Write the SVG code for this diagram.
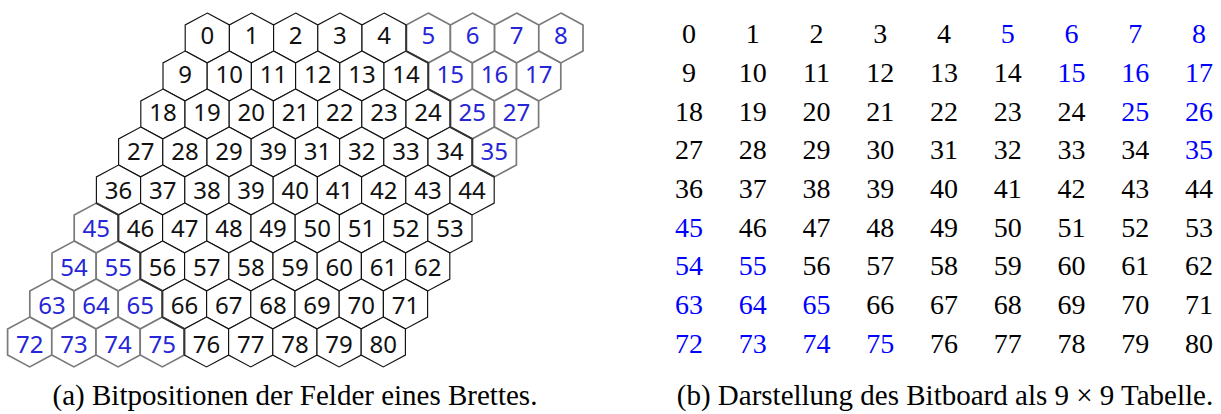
<svg xmlns="http://www.w3.org/2000/svg" xmlns:xlink="http://www.w3.org/1999/xlink" width="1221" height="414" viewBox="0 0 1221 414">
<style>
.hl text{font-family:"Noto Sans","Open Sans",sans-serif;font-size:24px;text-anchor:middle}
.blk use{fill:#fff;stroke:#111;stroke-width:1.15}
.blu use{fill:#fff;stroke:#7a7a7a;stroke-width:1.7}
.blk text{fill:#111}
.blu text{fill:#2626d6}
.bd{fill:none;stroke:#333;stroke-width:2;stroke-linejoin:round}
.tb text{font-family:"Liberation Serif","Times New Roman",serif;font-size:28px;text-anchor:middle;fill:#000}
.tb text.b{fill:#0000ff}
.cap{font-family:"Liberation Serif","Times New Roman",serif;font-size:29px;text-anchor:middle;fill:#000}
</style>
<defs>
<path id="hx" d="M0,-24.9 L22.1,-13.1 L22.1,13.1 L0,24.9 L-22.1,13.1 L-22.1,-13.1 Z"/>
</defs>
<rect width="1221" height="414" fill="#fff"/>
<g id="board" class="hl">
<g id="h5" class="blu"><use xlink:href="#hx" x="428.3" y="38"/><text x="428.3" y="44.3">5</text></g>
<g id="h6" class="blu"><use xlink:href="#hx" x="472.5" y="38"/><text x="472.5" y="44.3">6</text></g>
<g id="h7" class="blu"><use xlink:href="#hx" x="516.7" y="38"/><text x="516.7" y="44.3">7</text></g>
<g id="h8" class="blu"><use xlink:href="#hx" x="560.9" y="38"/><text x="560.9" y="44.3">8</text></g>
<g id="h15" class="blu"><use xlink:href="#hx" x="450.3" y="76"/><text x="450.3" y="82.9">15</text></g>
<g id="h16" class="blu"><use xlink:href="#hx" x="494.5" y="76"/><text x="494.5" y="82.9">16</text></g>
<g id="h17" class="blu"><use xlink:href="#hx" x="538.7" y="76"/><text x="538.7" y="82.9">17</text></g>
<g id="h25" class="blu"><use xlink:href="#hx" x="472.3" y="114"/><text x="472.3" y="121.4">25</text></g>
<g id="h26" class="blu"><use xlink:href="#hx" x="516.5" y="114"/><text x="516.5" y="121.4">27</text></g>
<g id="h35" class="blu"><use xlink:href="#hx" x="494.3" y="152"/><text x="494.3" y="160">35</text></g>
<g id="h45" class="blu"><use xlink:href="#hx" x="96.3" y="228"/><text x="96.3" y="237">45</text></g>
<g id="h54" class="blu"><use xlink:href="#hx" x="74.1" y="266"/><text x="74.1" y="275.6">54</text></g>
<g id="h55" class="blu"><use xlink:href="#hx" x="118.3" y="266"/><text x="118.3" y="275.6">55</text></g>
<g id="h63" class="blu"><use xlink:href="#hx" x="51.9" y="304"/><text x="51.9" y="314.2">63</text></g>
<g id="h64" class="blu"><use xlink:href="#hx" x="96.1" y="304"/><text x="96.1" y="314.2">64</text></g>
<g id="h65" class="blu"><use xlink:href="#hx" x="140.3" y="304"/><text x="140.3" y="314.2">65</text></g>
<g id="h72" class="blu"><use xlink:href="#hx" x="29.7" y="342"/><text x="29.7" y="352.7">72</text></g>
<g id="h73" class="blu"><use xlink:href="#hx" x="73.9" y="342"/><text x="73.9" y="352.7">73</text></g>
<g id="h74" class="blu"><use xlink:href="#hx" x="118.1" y="342"/><text x="118.1" y="352.7">74</text></g>
<g id="h75" class="blu"><use xlink:href="#hx" x="162.3" y="342"/><text x="162.3" y="352.7">75</text></g>

<g id="h0" class="blk"><use xlink:href="#hx" x="207.3" y="38"/><text x="207.3" y="44.3">0</text></g>
<g id="h1" class="blk"><use xlink:href="#hx" x="251.5" y="38"/><text x="251.5" y="44.3">1</text></g>
<g id="h2" class="blk"><use xlink:href="#hx" x="295.7" y="38"/><text x="295.7" y="44.3">2</text></g>
<g id="h3" class="blk"><use xlink:href="#hx" x="339.9" y="38"/><text x="339.9" y="44.3">3</text></g>
<g id="h4" class="blk"><use xlink:href="#hx" x="384.1" y="38"/><text x="384.1" y="44.3">4</text></g>
<g id="h9" class="blk"><use xlink:href="#hx" x="185.1" y="76"/><text x="185.1" y="82.9">9</text></g>
<g id="h10" class="blk"><use xlink:href="#hx" x="229.3" y="76"/><text x="229.3" y="82.9">10</text></g>
<g id="h11" class="blk"><use xlink:href="#hx" x="273.5" y="76"/><text x="273.5" y="82.9">11</text></g>
<g id="h12" class="blk"><use xlink:href="#hx" x="317.7" y="76"/><text x="317.7" y="82.9">12</text></g>
<g id="h13" class="blk"><use xlink:href="#hx" x="361.9" y="76"/><text x="361.9" y="82.9">13</text></g>
<g id="h14" class="blk"><use xlink:href="#hx" x="406.1" y="76"/><text x="406.1" y="82.9">14</text></g>
<g id="h18" class="blk"><use xlink:href="#hx" x="162.9" y="114"/><text x="162.9" y="121.4">18</text></g>
<g id="h19" class="blk"><use xlink:href="#hx" x="207.1" y="114"/><text x="207.1" y="121.4">19</text></g>
<g id="h20" class="blk"><use xlink:href="#hx" x="251.3" y="114"/><text x="251.3" y="121.4">20</text></g>
<g id="h21" class="blk"><use xlink:href="#hx" x="295.5" y="114"/><text x="295.5" y="121.4">21</text></g>
<g id="h22" class="blk"><use xlink:href="#hx" x="339.7" y="114"/><text x="339.7" y="121.4">22</text></g>
<g id="h23" class="blk"><use xlink:href="#hx" x="383.9" y="114"/><text x="383.9" y="121.4">23</text></g>
<g id="h24" class="blk"><use xlink:href="#hx" x="428.1" y="114"/><text x="428.1" y="121.4">24</text></g>
<g id="h27" class="blk"><use xlink:href="#hx" x="140.7" y="152"/><text x="140.7" y="160">27</text></g>
<g id="h28" class="blk"><use xlink:href="#hx" x="184.9" y="152"/><text x="184.9" y="160">28</text></g>
<g id="h29" class="blk"><use xlink:href="#hx" x="229.1" y="152"/><text x="229.1" y="160">29</text></g>
<g id="h30" class="blk"><use xlink:href="#hx" x="273.3" y="152"/><text x="273.3" y="160">39</text></g>
<g id="h31" class="blk"><use xlink:href="#hx" x="317.5" y="152"/><text x="317.5" y="160">31</text></g>
<g id="h32" class="blk"><use xlink:href="#hx" x="361.7" y="152"/><text x="361.7" y="160">32</text></g>
<g id="h33" class="blk"><use xlink:href="#hx" x="405.9" y="152"/><text x="405.9" y="160">33</text></g>
<g id="h34" class="blk"><use xlink:href="#hx" x="450.1" y="152"/><text x="450.1" y="160">34</text></g>
<g id="h36" class="blk"><use xlink:href="#hx" x="118.5" y="190"/><text x="118.5" y="198.5">36</text></g>
<g id="h37" class="blk"><use xlink:href="#hx" x="162.7" y="190"/><text x="162.7" y="198.5">37</text></g>
<g id="h38" class="blk"><use xlink:href="#hx" x="206.9" y="190"/><text x="206.9" y="198.5">38</text></g>
<g id="h39" class="blk"><use xlink:href="#hx" x="251.1" y="190"/><text x="251.1" y="198.5">39</text></g>
<g id="h40" class="blk"><use xlink:href="#hx" x="295.3" y="190"/><text x="295.3" y="198.5">40</text></g>
<g id="h41" class="blk"><use xlink:href="#hx" x="339.5" y="190"/><text x="339.5" y="198.5">41</text></g>
<g id="h42" class="blk"><use xlink:href="#hx" x="383.7" y="190"/><text x="383.7" y="198.5">42</text></g>
<g id="h43" class="blk"><use xlink:href="#hx" x="427.9" y="190"/><text x="427.9" y="198.5">43</text></g>
<g id="h44" class="blk"><use xlink:href="#hx" x="472.1" y="190"/><text x="472.1" y="198.5">44</text></g>
<g id="h46" class="blk"><use xlink:href="#hx" x="140.5" y="228"/><text x="140.5" y="237">46</text></g>
<g id="h47" class="blk"><use xlink:href="#hx" x="184.7" y="228"/><text x="184.7" y="237">47</text></g>
<g id="h48" class="blk"><use xlink:href="#hx" x="228.9" y="228"/><text x="228.9" y="237">48</text></g>
<g id="h49" class="blk"><use xlink:href="#hx" x="273.1" y="228"/><text x="273.1" y="237">49</text></g>
<g id="h50" class="blk"><use xlink:href="#hx" x="317.3" y="228"/><text x="317.3" y="237">50</text></g>
<g id="h51" class="blk"><use xlink:href="#hx" x="361.5" y="228"/><text x="361.5" y="237">51</text></g>
<g id="h52" class="blk"><use xlink:href="#hx" x="405.7" y="228"/><text x="405.7" y="237">52</text></g>
<g id="h53" class="blk"><use xlink:href="#hx" x="449.9" y="228"/><text x="449.9" y="237">53</text></g>
<g id="h56" class="blk"><use xlink:href="#hx" x="162.5" y="266"/><text x="162.5" y="275.6">56</text></g>
<g id="h57" class="blk"><use xlink:href="#hx" x="206.7" y="266"/><text x="206.7" y="275.6">57</text></g>
<g id="h58" class="blk"><use xlink:href="#hx" x="250.9" y="266"/><text x="250.9" y="275.6">58</text></g>
<g id="h59" class="blk"><use xlink:href="#hx" x="295.1" y="266"/><text x="295.1" y="275.6">59</text></g>
<g id="h60" class="blk"><use xlink:href="#hx" x="339.3" y="266"/><text x="339.3" y="275.6">60</text></g>
<g id="h61" class="blk"><use xlink:href="#hx" x="383.5" y="266"/><text x="383.5" y="275.6">61</text></g>
<g id="h62" class="blk"><use xlink:href="#hx" x="427.7" y="266"/><text x="427.7" y="275.6">62</text></g>
<g id="h66" class="blk"><use xlink:href="#hx" x="184.5" y="304"/><text x="184.5" y="314.2">66</text></g>
<g id="h67" class="blk"><use xlink:href="#hx" x="228.7" y="304"/><text x="228.7" y="314.2">67</text></g>
<g id="h68" class="blk"><use xlink:href="#hx" x="272.9" y="304"/><text x="272.9" y="314.2">68</text></g>
<g id="h69" class="blk"><use xlink:href="#hx" x="317.1" y="304"/><text x="317.1" y="314.2">69</text></g>
<g id="h70" class="blk"><use xlink:href="#hx" x="361.3" y="304"/><text x="361.3" y="314.2">70</text></g>
<g id="h71" class="blk"><use xlink:href="#hx" x="405.5" y="304"/><text x="405.5" y="314.2">71</text></g>
<g id="h76" class="blk"><use xlink:href="#hx" x="206.5" y="342"/><text x="206.5" y="352.7">76</text></g>
<g id="h77" class="blk"><use xlink:href="#hx" x="250.7" y="342"/><text x="250.7" y="352.7">77</text></g>
<g id="h78" class="blk"><use xlink:href="#hx" x="294.9" y="342"/><text x="294.9" y="352.7">78</text></g>
<g id="h79" class="blk"><use xlink:href="#hx" x="339.1" y="342"/><text x="339.1" y="352.7">79</text></g>
<g id="h80" class="blk"><use xlink:href="#hx" x="383.3" y="342"/><text x="383.3" y="352.7">80</text></g>
</g>
<g id="region-borders">
<path class="bd" d="M406.2,24.9 L406.2,51.1 L428.3,62.9 L428.3,89.1 L450.3,100.9 L450.3,127.1 L472.3,138.9 L472.3,165.1 L494.3,176.9"/>
<path class="bd" d="M96.3,203.1 L118.4,214.9 L118.4,241.1 L140.4,252.9 L140.4,279.1 L162.4,290.9 L162.4,317.1 L184.4,328.9 L184.4,355.1"/>
</g>
<g id="connectors"></g>
<g id="table" class="tb">
<text x="689" y="43.3">0</text><text x="752.8" y="43.3">1</text><text x="816.5" y="43.3">2</text><text x="880.3" y="43.3">3</text><text x="944" y="43.3">4</text><text class="b" x="1007.8" y="43.3">5</text><text class="b" x="1071.5" y="43.3">6</text><text class="b" x="1135.3" y="43.3">7</text><text class="b" x="1199" y="43.3">8</text>
<text x="689" y="82">9</text><text x="752.8" y="82">10</text><text x="816.5" y="82">11</text><text x="880.3" y="82">12</text><text x="944" y="82">13</text><text x="1007.8" y="82">14</text><text class="b" x="1071.5" y="82">15</text><text class="b" x="1135.3" y="82">16</text><text class="b" x="1199" y="82">17</text>
<text x="689" y="120.7">18</text><text x="752.8" y="120.7">19</text><text x="816.5" y="120.7">20</text><text x="880.3" y="120.7">21</text><text x="944" y="120.7">22</text><text x="1007.8" y="120.7">23</text><text x="1071.5" y="120.7">24</text><text class="b" x="1135.3" y="120.7">25</text><text class="b" x="1199" y="120.7">26</text>
<text x="689" y="159.3">27</text><text x="752.8" y="159.3">28</text><text x="816.5" y="159.3">29</text><text x="880.3" y="159.3">30</text><text x="944" y="159.3">31</text><text x="1007.8" y="159.3">32</text><text x="1071.5" y="159.3">33</text><text x="1135.3" y="159.3">34</text><text class="b" x="1199" y="159.3">35</text>
<text x="689" y="198">36</text><text x="752.8" y="198">37</text><text x="816.5" y="198">38</text><text x="880.3" y="198">39</text><text x="944" y="198">40</text><text x="1007.8" y="198">41</text><text x="1071.5" y="198">42</text><text x="1135.3" y="198">43</text><text x="1199" y="198">44</text>
<text class="b" x="689" y="236.7">45</text><text x="752.8" y="236.7">46</text><text x="816.5" y="236.7">47</text><text x="880.3" y="236.7">48</text><text x="944" y="236.7">49</text><text x="1007.8" y="236.7">50</text><text x="1071.5" y="236.7">51</text><text x="1135.3" y="236.7">52</text><text x="1199" y="236.7">53</text>
<text class="b" x="689" y="275.4">54</text><text class="b" x="752.8" y="275.4">55</text><text x="816.5" y="275.4">56</text><text x="880.3" y="275.4">57</text><text x="944" y="275.4">58</text><text x="1007.8" y="275.4">59</text><text x="1071.5" y="275.4">60</text><text x="1135.3" y="275.4">61</text><text x="1199" y="275.4">62</text>
<text class="b" x="689" y="314.1">63</text><text class="b" x="752.8" y="314.1">64</text><text class="b" x="816.5" y="314.1">65</text><text x="880.3" y="314.1">66</text><text x="944" y="314.1">67</text><text x="1007.8" y="314.1">68</text><text x="1071.5" y="314.1">69</text><text x="1135.3" y="314.1">70</text><text x="1199" y="314.1">71</text>
<text class="b" x="689" y="352.7">72</text><text class="b" x="752.8" y="352.7">73</text><text class="b" x="816.5" y="352.7">74</text><text class="b" x="880.3" y="352.7">75</text><text x="944" y="352.7">76</text><text x="1007.8" y="352.7">77</text><text x="1071.5" y="352.7">78</text><text x="1135.3" y="352.7">79</text><text x="1199" y="352.7">80</text>
</g>
<g id="captions">
<text class="cap" x="295" y="405">(a) Bitpositionen der Felder eines Brettes.</text>
<text class="cap" x="945" y="405">(b) Darstellung des Bitboard als 9 × 9 Tabelle.</text>
</g>
</svg>
